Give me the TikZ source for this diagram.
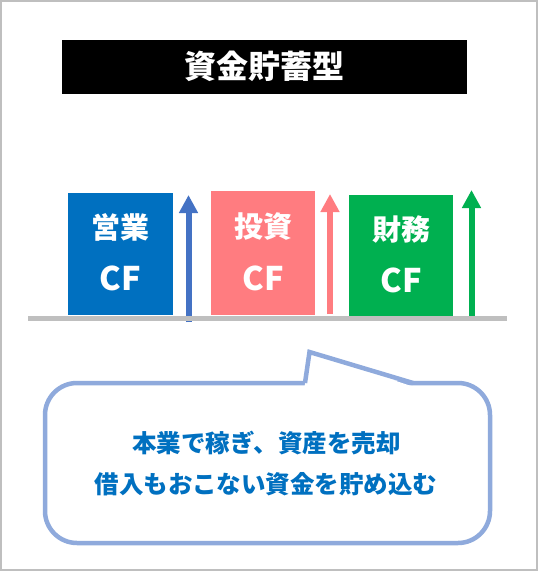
\documentclass[tikz,border=0pt]{standalone}
\usepackage{fontspec}
\newfontfamily\jp{Noto Sans CJK JP}
\usetikzlibrary{arrows.meta}
\definecolor{frameg}{HTML}{BFBFBF}
\definecolor{opblue}{HTML}{0070C0}
\definecolor{arrblue}{HTML}{4472C4}
\definecolor{invpink}{HTML}{FF7C80}
\definecolor{fingreen}{HTML}{00B050}
\definecolor{bubline}{HTML}{8FAADC}
\tikzset{
  cfbox/.style={inner sep=0pt, draw=none},
  boxtxt/.style={inner sep=0pt, text=white, font=\jp\bfseries\fontsize{29}{34}\selectfont},
  cftxt/.style={inner sep=0pt, text=white, font=\jp\bfseries\fontsize{32.5}{38}\selectfont},
  flowarrow/.style={line width=6pt, -{Triangle[width=18pt,length=18pt]}},
  bubtxt/.style={inner sep=0pt, text=opblue, font=\jp\bfseries\fontsize{24.5}{29}\selectfont},
}
\begin{document}
\begin{tikzpicture}[x=1pt,y=-1pt]
\useasboundingbox (0,0) rectangle (538,571);
\fill[white] (0,0) rectangle (538,571);
\draw[line width=2pt, frameg] (1,1) rectangle (537,570);
% title
\node[fill=black, minimum width=405pt, minimum height=54pt, inner sep=0pt] (title) at (264.5,67) {};
\node[inner sep=0pt, text=white, font=\jp\bfseries\fontsize{32}{38}\selectfont] (titletxt) at (264.5,66.5) {資金貯蓄型};
% boxes
\node[cfbox, fill=opblue, minimum width=105pt, minimum height=122pt] (op) at (120.5,254) {};
\node[cfbox, fill=invpink, minimum width=104pt, minimum height=124pt] (inv) at (263,253) {};
\node[cfbox, fill=fingreen, minimum width=104pt, minimum height=121pt] (fin) at (401,255.5) {};
\node[boxtxt] (op1) at (120.5,227) {営業};
\node[cftxt] (op2) at (120.5,278.7) {CF};
\node[boxtxt] (inv1) at (263,227) {投資};
\node[cftxt] (inv2) at (263,278.7) {CF};
\node[boxtxt] (fin1) at (401,229) {財務};
\node[cftxt] (fin2) at (401,280) {CF};
% arrows
\coordinate (a1s) at (188.5,322);
\coordinate (a1e) at (188.5,195);
\coordinate (a2s) at (330,314);
\coordinate (a2e) at (330,194);
\coordinate (a3s) at (471.5,316);
\coordinate (a3e) at (471.5,190);
\draw[flowarrow, arrblue] (a1s) -- (a1e);
\draw[flowarrow, invpink] (a2s) -- (a2e);
\draw[flowarrow, fingreen] (a3s) -- (a3e);
% base line
\coordinate (gl) at (28,318);
\coordinate (gr) at (507,318);
\draw[line width=5pt, frameg] (gl) -- (gr);
% bubble
\node[draw=bubline, line width=4.5pt, fill=white, rounded corners=32pt, minimum width=445pt, minimum height=160pt, inner sep=0pt] (bub) at (267.5,463) {};
\coordinate (t1) at (305,383);
\coordinate (t2) at (309.5,352);
\coordinate (t3) at (413,383);
\fill[white] (304.5,387) -- (t2) -- (414,387) -- cycle;
\draw[bubline, line width=4.5pt, line join=miter] (t1) -- (t2) -- (t3);
\node[bubtxt] (b1) at (266.5,443) {本業で稼ぎ、資産を売却};
\node[bubtxt] (b2) at (266,484) {借入もおこない資金を貯め込む};
\end{tikzpicture}
\end{document}
